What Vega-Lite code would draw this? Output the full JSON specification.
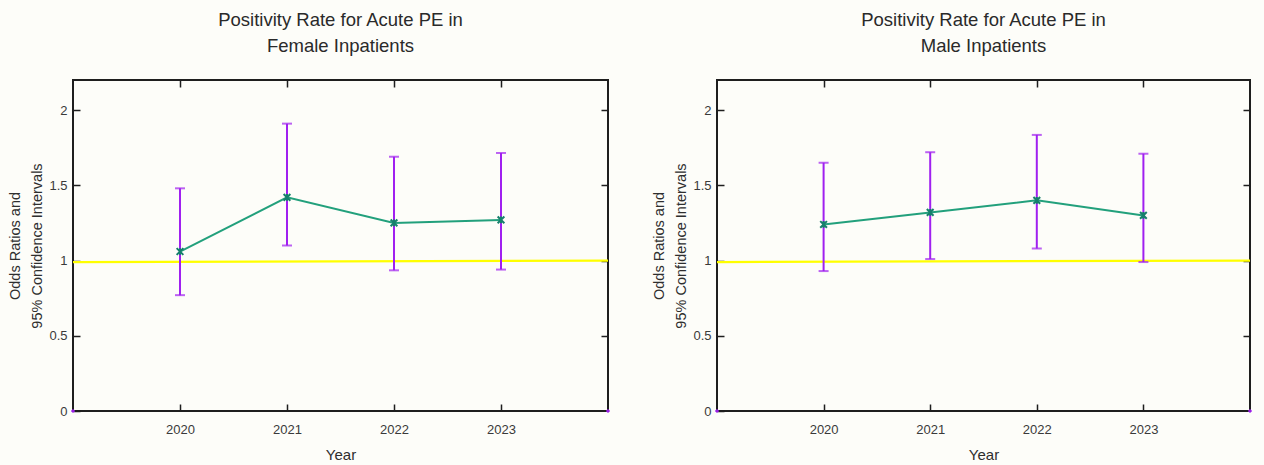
{
  "$schema": "https://vega.github.io/schema/vega-lite/v6.json",
  "background": "#fdfdf9",
  "padding": {"left": 6, "top": 9, "right": 13, "bottom": 4},
  "datasets": {
    "or": [
      {"panel": "F", "year": 2020, "or": 1.06, "lo": 0.77, "hi": 1.48},
      {"panel": "F", "year": 2021, "or": 1.42, "lo": 1.1, "hi": 1.91},
      {"panel": "F", "year": 2022, "or": 1.25, "lo": 0.935, "hi": 1.69},
      {"panel": "F", "year": 2023, "or": 1.27, "lo": 0.94, "hi": 1.715},
      {"panel": "M", "year": 2020, "or": 1.24, "lo": 0.93, "hi": 1.65},
      {"panel": "M", "year": 2021, "or": 1.32, "lo": 1.01, "hi": 1.72},
      {"panel": "M", "year": 2022, "or": 1.4, "lo": 1.08, "hi": 1.835},
      {"panel": "M", "year": 2023, "or": 1.3, "lo": 0.99, "hi": 1.71}
    ],
    "ref": [{"x": 2019, "y": 0.99}, {"x": 2024, "y": 1.0}],
    "corner": [{"x": 2019, "y": 0}, {"x": 2024, "y": 0}]
  },
  "config": {
    "font": "Liberation Sans",
    "view": {"stroke": "#1e1e1e", "strokeWidth": 2, "fill": "#fdfdf9"},
    "title": {"fontSize": 18.5, "fontWeight": "normal", "color": "#2a2a2a", "lineHeight": 26, "offset": 24, "anchor": "middle"},
    "axis": {"grid": false, "domain": false, "tickColor": "#1e1e1e", "tickWidth": 1.5, "tickSize": -7, "labelColor": "#3a3a3a", "labelFontSize": 13, "titleColor": "#2e2e2e", "titleFontSize": 14.5, "titleFontWeight": "normal"}
  },
  "spacing": 36,
  "hconcat": [
    {
      "width": 535,
      "height": 331,
      "title": {"text": ["Positivity Rate for Acute PE in", "Female Inpatients"]},
      "resolve": {"axis": {"x": "independent", "y": "independent"}},
      "layer": [
        {
          "data": {"name": "ref"},
          "mark": {"type": "line", "color": "#ffff00", "strokeWidth": 2.2},
          "encoding": {
            "x": {"field": "x", "type": "quantitative", "scale": {"domain": [2019, 2024], "nice": false},
                  "axis": {"orient": "bottom", "values": [2020, 2021, 2022, 2023], "format": "d", "labelPadding": 19, "title": "Year", "titleFontSize": 15, "titlePadding": 11}},
            "y": {"field": "y", "type": "quantitative", "scale": {"domain": [0, 2.2], "nice": false},
                  "axis": {"orient": "left", "values": [0, 0.5, 1, 1.5, 2], "format": "~g", "labelPadding": 13, "title": ["Odds Ratios and", "95% Confidence Intervals"], "titleLineHeight": 22, "titlePadding": 4}}
          }
        },
        {
          "data": {"name": "or"},
          "transform": [{"filter": "datum.panel === 'F'"}],
          "mark": {"type": "rule", "color": "#a020f0", "strokeWidth": 2},
          "encoding": {
            "x": {"field": "year", "type": "quantitative", "axis": {"orient": "top", "values": [2020, 2021, 2022, 2023], "labels": false, "title": null}},
            "y": {"field": "lo", "type": "quantitative", "axis": {"orient": "right", "values": [0.5, 1, 1.5, 2], "labels": false, "title": null}},
            "y2": {"field": "hi"}
          }
        },
        {
          "data": {"name": "or"},
          "transform": [{"filter": "datum.panel === 'F'"}],
          "mark": {"type": "tick", "orient": "horizontal", "color": "#a020f0", "size": 10, "thickness": 2},
          "encoding": {
            "x": {"field": "year", "type": "quantitative", "axis": null},
            "y": {"field": "lo", "type": "quantitative", "axis": null}
          }
        },
        {
          "data": {"name": "or"},
          "transform": [{"filter": "datum.panel === 'F'"}],
          "mark": {"type": "tick", "orient": "horizontal", "color": "#a020f0", "size": 10, "thickness": 2},
          "encoding": {
            "x": {"field": "year", "type": "quantitative", "axis": null},
            "y": {"field": "hi", "type": "quantitative", "axis": null}
          }
        },
        {
          "data": {"name": "or"},
          "transform": [{"filter": "datum.panel === 'F'"}],
          "mark": {"type": "line", "color": "#22a07c", "strokeWidth": 2},
          "encoding": {
            "x": {"field": "year", "type": "quantitative", "axis": null},
            "y": {"field": "or", "type": "quantitative", "axis": null}
          }
        },
        {
          "data": {"name": "or"},
          "transform": [{"filter": "datum.panel === 'F'"}],
          "mark": {"type": "point", "shape": "M-1,-1L1,1M-1,1L1,-1M0,-1L0,1", "filled": false, "color": "#167f6c", "strokeWidth": 2, "size": 45, "opacity": 1},
          "encoding": {
            "x": {"field": "year", "type": "quantitative", "axis": null},
            "y": {"field": "or", "type": "quantitative", "axis": null}
          }
        },
        {
          "data": {"name": "corner"},
          "mark": {"type": "point", "shape": "cross", "filled": true, "color": "#a020f0", "size": 14, "opacity": 1},
          "encoding": {
            "x": {"field": "x", "type": "quantitative", "axis": null},
            "y": {"field": "y", "type": "quantitative", "axis": null}
          }
        }
      ]
    },
    {
      "width": 533,
      "height": 331,
      "title": {"text": ["Positivity Rate for Acute PE in", "Male Inpatients"]},
      "resolve": {"axis": {"x": "independent", "y": "independent"}},
      "layer": [
        {
          "data": {"name": "ref"},
          "mark": {"type": "line", "color": "#ffff00", "strokeWidth": 2.2},
          "encoding": {
            "x": {"field": "x", "type": "quantitative", "scale": {"domain": [2019, 2024], "nice": false},
                  "axis": {"orient": "bottom", "values": [2020, 2021, 2022, 2023], "format": "d", "labelPadding": 19, "title": "Year", "titleFontSize": 15, "titlePadding": 11}},
            "y": {"field": "y", "type": "quantitative", "scale": {"domain": [0, 2.2], "nice": false},
                  "axis": {"orient": "left", "values": [0, 0.5, 1, 1.5, 2], "format": "~g", "labelPadding": 13, "title": ["Odds Ratios and", "95% Confidence Intervals"], "titleLineHeight": 22, "titlePadding": 4}}
          }
        },
        {
          "data": {"name": "or"},
          "transform": [{"filter": "datum.panel === 'M'"}],
          "mark": {"type": "rule", "color": "#a020f0", "strokeWidth": 2},
          "encoding": {
            "x": {"field": "year", "type": "quantitative", "axis": {"orient": "top", "values": [2020, 2021, 2022, 2023], "labels": false, "title": null}},
            "y": {"field": "lo", "type": "quantitative", "axis": {"orient": "right", "values": [0.5, 1, 1.5, 2], "labels": false, "title": null}},
            "y2": {"field": "hi"}
          }
        },
        {
          "data": {"name": "or"},
          "transform": [{"filter": "datum.panel === 'M'"}],
          "mark": {"type": "tick", "orient": "horizontal", "color": "#a020f0", "size": 10, "thickness": 2},
          "encoding": {
            "x": {"field": "year", "type": "quantitative", "axis": null},
            "y": {"field": "lo", "type": "quantitative", "axis": null}
          }
        },
        {
          "data": {"name": "or"},
          "transform": [{"filter": "datum.panel === 'M'"}],
          "mark": {"type": "tick", "orient": "horizontal", "color": "#a020f0", "size": 10, "thickness": 2},
          "encoding": {
            "x": {"field": "year", "type": "quantitative", "axis": null},
            "y": {"field": "hi", "type": "quantitative", "axis": null}
          }
        },
        {
          "data": {"name": "or"},
          "transform": [{"filter": "datum.panel === 'M'"}],
          "mark": {"type": "line", "color": "#22a07c", "strokeWidth": 2},
          "encoding": {
            "x": {"field": "year", "type": "quantitative", "axis": null},
            "y": {"field": "or", "type": "quantitative", "axis": null}
          }
        },
        {
          "data": {"name": "or"},
          "transform": [{"filter": "datum.panel === 'M'"}],
          "mark": {"type": "point", "shape": "M-1,-1L1,1M-1,1L1,-1M0,-1L0,1", "filled": false, "color": "#167f6c", "strokeWidth": 2, "size": 45, "opacity": 1},
          "encoding": {
            "x": {"field": "year", "type": "quantitative", "axis": null},
            "y": {"field": "or", "type": "quantitative", "axis": null}
          }
        },
        {
          "data": {"name": "corner"},
          "mark": {"type": "point", "shape": "cross", "filled": true, "color": "#a020f0", "size": 14, "opacity": 1},
          "encoding": {
            "x": {"field": "x", "type": "quantitative", "axis": null},
            "y": {"field": "y", "type": "quantitative", "axis": null}
          }
        }
      ]
    }
  ]
}
